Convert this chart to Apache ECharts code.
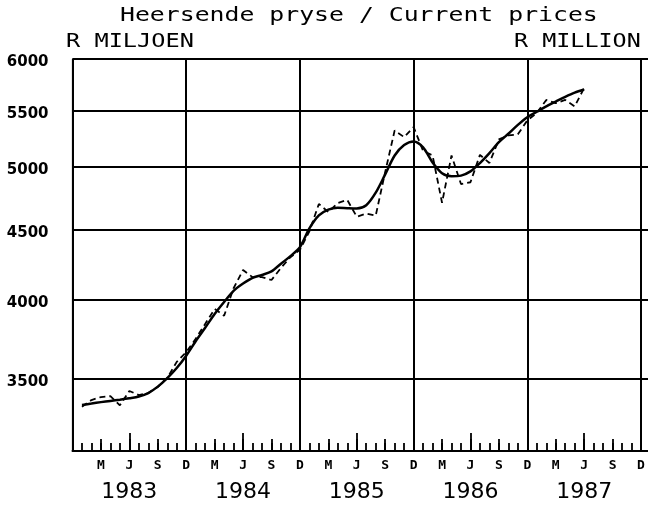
<!DOCTYPE html>
<html>
<head>
<meta charset="utf-8">
<script src="https://cdn.jsdelivr.net/npm/echarts@6/dist/echarts.min.js"></script>
<style>html,body{margin:0;padding:0;background:#fff}#c{width:648px;height:506px}</style>
</head>
<body>
<div id="c"></div>
<script>
// ---- data (R million, current prices), monthly from Jan 1983 ----
const firstMonth = 1; // month index 1 = Jan 1983 (0 = Dec 1982)
const actual = [3340,3378,3395,3400,3348,3430,3406,3418,3453,3506,3602,3662,
                3745,3840,3938,3893,4078,4205,4155,4155,4135,4220,4297,4350,
                4488,4700,4636,4708,4732,4600,4624,4608,4960,5320,5260,5350,
                5140,5100,4710,5100,4860,4875,5105,5036,5240,5275,5285,5410,
                5480,5600,5570,5600,5540,5715];
const trend = [3350,3358,3366,3373,3380,3388,3398,3418,3455,3505,3565,3640,
               3730,3815,3905,3985,4060,4110,4150,4170,4195,4250,4305,4370,
               4510,4610,4655,4670,4667,4665,4690,4790,4940,5100,5190,5222,
               5170,5040,4950,4925,4930,4965,5035,5120,5215,5290,5370,5440,
               5490,5540,5585,5630,5670,5700];
const yTicks = [3500,4000,4500,5000,5500,6000];
const years = ['1983','1984','1985','1986','1987'];
const monthLetters = {3:'M',6:'J',9:'S',0:'D'};

const toPairs = arr => arr.map((v,i)=>[firstMonth+i, v]);

const chart = echarts.init(document.getElementById('c'), null, {renderer:'canvas'});
const baseX = {type:'value', gridIndex:0, position:'bottom', min:0, max:61,
  axisLabel:{show:false}, splitLine:{show:false}, axisLine:{show:false}, axisTick:{show:false}};
const monoFont = 'DejaVu Sans Mono';
chart.setOption({
  animation:false,
  backgroundColor:'#fff',
  grid:{left:72.5, right:-2.5, top:59, bottom:55, containLabel:false, outerBoundsMode:'none'},
  xAxis:[
    Object.assign({}, baseX, {interval:1,
      axisLine:{show:true, onZero:false, lineStyle:{color:'#000', width:2}},
      axisTick:{show:true, inside:true, length:8, lineStyle:{color:'#000', width:1.8}}}),
    Object.assign({}, baseX, {interval:3,
      axisTick:{show:true, inside:true, length:12, lineStyle:{color:'#000', width:1.8}},
      axisLabel:{show:true, margin:8, color:'#000',
        formatter:function(v){
          const r = Math.round(v);
          if (Math.abs(v-r)>1e-6 || r<=0) return '';
          const k = r % 12;
          if (k===6) return '{m|J}\n{y|' + years[(r-6)/12] + '}';
          return '{m|' + monthLetters[k] + '}';
        },
        rich:{
          m:{fontFamily:monoFont, fontWeight:'bold', fontSize:13, lineHeight:14, color:'#000'},
          y:{fontFamily:'DejaVu Sans', fontSize:22, lineHeight:38, color:'#000'}
        }}}),
    Object.assign({}, baseX, {interval:6,
      axisTick:{show:true, inside:true, length:18, lineStyle:{color:'#000', width:1.8}}}),
    Object.assign({}, baseX, {interval:12,
      splitLine:{show:true, lineStyle:{color:'#000', width:2}}})
  ],
  yAxis:{type:'log', logBase:10, min:3100, max:6000,
    axisLine:{show:true, onZero:false, lineStyle:{color:'#000', width:1.2}},
    axisTick:{show:false}, axisLabel:{show:false}, splitLine:{show:false}},
  series:[
    {type:'line', name:'actual', xAxisIndex:0, data:toPairs(actual), showSymbol:false, symbol:'none',
     lineStyle:{color:'#000', width:1.8, type:[6,4]}, z:3,
     markLine:{silent:true, symbol:['none','none'], animation:false,
       lineStyle:{color:'#000', width:2, type:'solid'},
       label:{show:true, position:'start', distance:24, offset:[0,3], color:'#000', fontFamily:'DejaVu Sans',
         fontWeight:'bold', fontSize:15, formatter:function(p){return String(p.value);}},
       emphasis:{disabled:true},
       data:yTicks.map(v=>({yAxis:v}))}},
    {type:'line', name:'trend', xAxisIndex:0, data:toPairs(trend), showSymbol:false, symbol:'none',
     smooth:0.3, lineStyle:{color:'#000', width:2.5, type:'solid'}, z:4}
  ],
  graphic:[
    {type:'text', x:120, y:6, scaleX:1.24, style:{text:'Heersende pryse / Current prices',
      fontFamily:monoFont, fontSize:20, fill:'#000', align:'left', verticalAlign:'top'}},
    {type:'text', x:66, y:32, scaleX:1.18, style:{text:'R MILJOEN',
      fontFamily:monoFont, fontSize:20, fill:'#000', align:'left', verticalAlign:'top'}},
    {type:'text', x:514, y:32, scaleX:1.17, style:{text:'R MILLION',
      fontFamily:monoFont, fontSize:20, fill:'#000', align:'left', verticalAlign:'top'}}
  ]
});
</script>
</body>
</html>
